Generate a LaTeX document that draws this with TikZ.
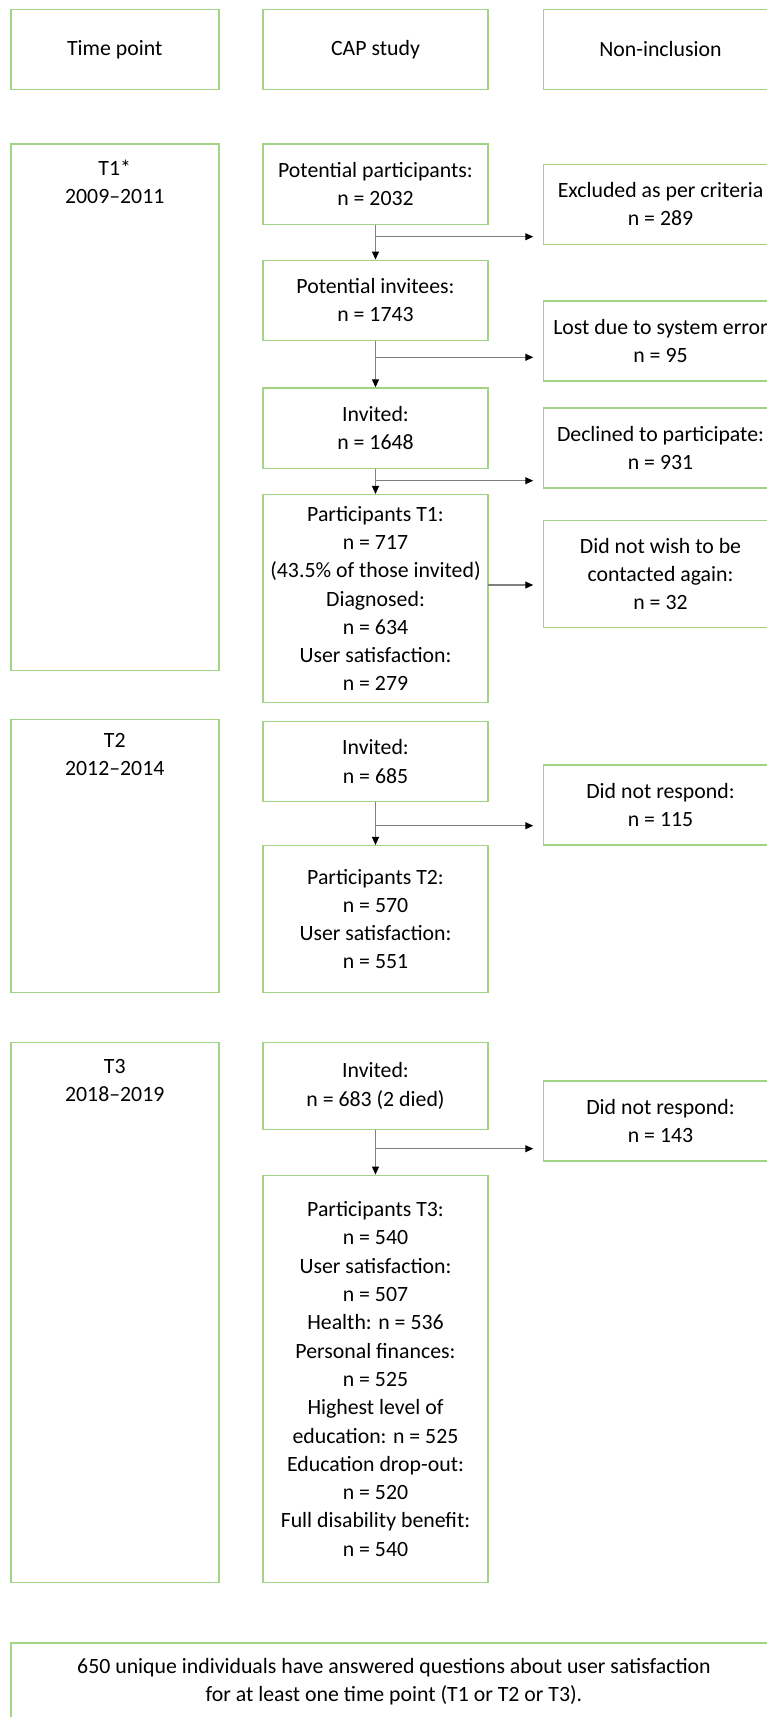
\documentclass[tikz,border=0pt]{standalone}
\usepackage{fontspec}
\setmainfont{Carlito}
\usepackage{xcolor}
\usetikzlibrary{arrows.meta,positioning}
\definecolor{boxGreen}{HTML}{A3D483}
\definecolor{lineGray}{HTML}{808080}

\begin{document}
\begin{tikzpicture}[x=1pt,y=-1pt,
  font=\fontsize{21.8}{28.3}\selectfont,
  box/.style={draw=boxGreen, line width=1.5pt, align=center, inner sep=0pt},
  timebox/.style={box, minimum width=208pt},
  capbox/.style={box, minimum width=224.6pt},
  outbox/.style={box, minimum width=234pt, minimum height=80pt},
  timelab/.style={anchor=north, align=center, inner sep=0pt},
  flow/.style={draw=lineGray, line width=1.1pt, -{Triangle[length=8pt,width=7pt,black]}},
  branch/.style={flow, shorten >=9.5pt}]
\clip (0,0) rectangle (767,1717);
% column headers
\node[timebox, minimum height=80pt] (hdtime) at (114.75,49.3) {Time point};
\node[capbox, minimum height=80pt]  (hdcap)  at (375.5,49.3)  {CAP study};
\node[outbox]                       (hdnon)  at (660.5,49.3)  {Non-inclusion};
% T1
\node[timebox, minimum height=526.3pt] (t1) at (114.75,407.2) {};
\node[timelab] (t1lab) at (114.75,160) {T1*\\2009–2011};
\node[capbox, minimum height=80.3pt] (pp)   at (375.5,184.2) {Potential participants:\\n = 2032};
\node[outbox]                        (excl) at (660.5,204.3) {Excluded as per criteria\\n = 289};
\node[capbox, minimum height=80pt]   (pi)   at (375.5,300.3) {Potential invitees:\\n = 1743};
\node[outbox]                        (lost) at (660.5,341)   {Lost due to system error\\n = 95};
\node[capbox, minimum height=80.3pt] (inv1) at (375.5,428.2) {Invited:\\n = 1648};
\node[outbox]                        (decl) at (660.5,448)   {Declined to participate:\\n = 931};
\node[capbox, minimum height=207.6pt] (pt1) at (375.5,598.5)
  {Participants T1:\\n = 717\\(43.5\% of those invited)\\Diagnosed:\\n = 634\\User satisfaction:\\n = 279};
\node[outbox, minimum height=107.4pt] (nowish) at (660.5,574) {Did not wish to be\\contacted again:\\n = 32};
% T2
\node[timebox, minimum height=273pt] (t2) at (114.75,855.8) {};
\node[timelab] (t2lab) at (114.75,733) {T2\\2012–2014};
\node[capbox, minimum height=79.6pt]  (inv2) at (375.5,761.5) {Invited:\\n = 685};
\node[outbox]                         (nr2)  at (660.5,805)   {Did not respond:\\n = 115};
\node[capbox, minimum height=146.6pt] (pt2)  at (375.5,919)
  {Participants T2:\\n = 570\\User satisfaction:\\n = 551};
% T3
\node[timebox, minimum height=540.4pt] (t3) at (114.75,1312.5) {};
\node[timelab] (t3lab) at (114.75,1059) {T3\\2018–2019};
\node[capbox, minimum height=87pt]    (inv3) at (375.5,1085.8) {Invited:\\n = 683 (2 died)};
\node[outbox]                         (nr3)  at (660.5,1121)   {Did not respond:\\n = 143};
\node[capbox, minimum height=407.4pt] (pt3)  at (375.5,1379)
  {Participants T3:\\n = 540\\User satisfaction:\\n = 507\\Health: n = 536\\Personal finances:\\n = 525\\Highest level of\\education: n = 525\\Education drop-out:\\n = 520\\Full disability benefit:\\n = 540};
% summary
\node[box, minimum width=766pt, minimum height=77pt] (summ) at (394,1681.7)
  {650 unique individuals have answered questions about user satisfaction\\for at least one time point (T1 or T2 or T3).};
% flow arrows
\coordinate (br1) at (375.5,236.7);
\coordinate (br2) at (375.5,357.3);
\coordinate (br3) at (375.5,480.7);
\coordinate (br4) at (487.8,585);
\coordinate (br5) at (375.5,825.7);
\coordinate (br6) at (375.5,1148.7);
\draw[flow] (pp) -- (pi);
\draw[flow] (pi) -- (inv1);
\draw[flow] (inv1) -- (pt1);
\draw[flow] (inv2) -- (pt2);
\draw[flow] (inv3) -- (pt3);
\draw[branch] (br1) -- (br1 -| excl.west);
\draw[branch] (br2) -- (br2 -| lost.west);
\draw[branch] (br3) -- (br3 -| decl.west);
\draw[branch] (br4) -- (br4 -| nowish.west);
\draw[branch] (br5) -- (br5 -| nr2.west);
\draw[branch] (br6) -- (br6 -| nr3.west);
\end{tikzpicture}
\end{document}
